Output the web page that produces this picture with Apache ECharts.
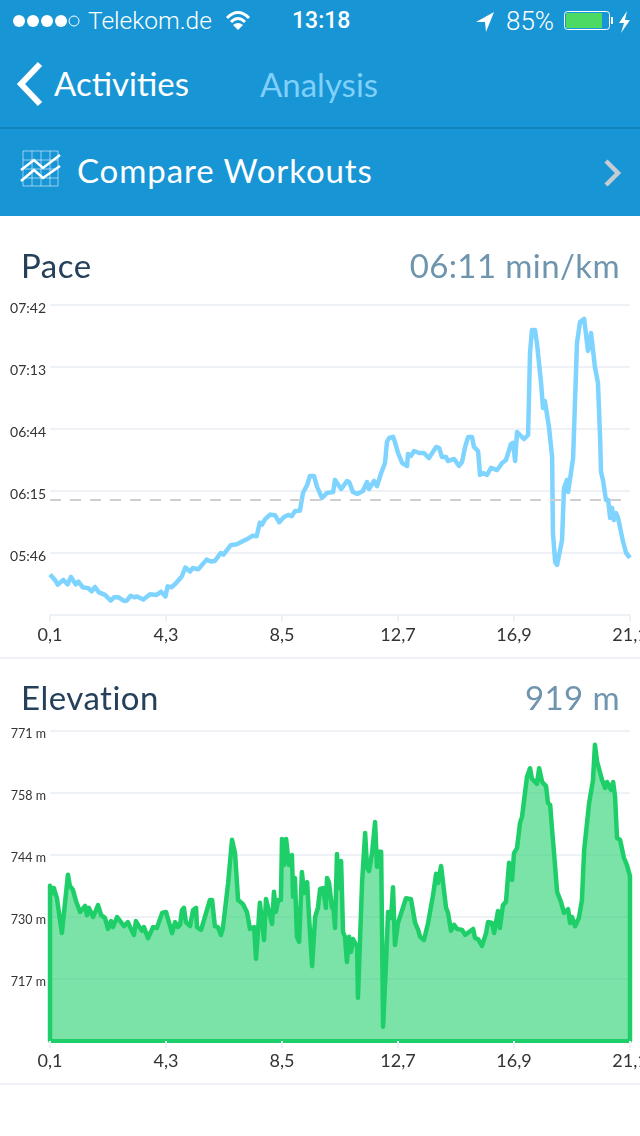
<!DOCTYPE html>
<html>
<head>
    <meta charset="utf-8">
    <title>Analysis</title>
    <script src="https://cdn.jsdelivr.net/npm/echarts@6/dist/echarts.min.js"></script>
    <style>
        html, body { margin: 0; padding: 0; background: #fff; }
        #page { position: relative; width: 640px; height: 1136px; overflow: hidden; font-family: Lato, "Open Sans", sans-serif; }
        #chart1 { position: absolute; left: 0; top: 0; width: 640px; height: 1136px; }
        #header { position: absolute; left: 0; top: 0; width: 640px; height: 216px; background: #1795d4; }
        #header .rule { position: absolute; left: 0; top: 127px; width: 640px; height: 2px; background: #1483bd; }
        .t { position: absolute; white-space: nowrap; line-height: 40px; height: 40px; }
        .status { font-family: Roboto, sans-serif; font-weight: 300; font-size: 24.5px; color: #fff; }
        .nav { font-size: 33px; color: #fff; }
        .head { font-size: 33px; letter-spacing: 0.5px; color: #24405a; }
        .val { font-size: 33px; letter-spacing: 0.4px; color: #6f95ae; right: 20px; }
        svg { position: absolute; left: 0; top: 0; }
        .sep { position: absolute; left: 0; width: 640px; height: 2px; background: #eef2f6; }
    </style>
</head>
<body>
<div id="page">
    <div id="chart1"></div>
    <div id="header">
        <div class="rule"></div>
        <svg width="640" height="216">
            <g fill="#fff">
                <circle cx="19" cy="21" r="6"/><circle cx="33" cy="21" r="6"/><circle cx="47" cy="21" r="6"/><circle cx="61" cy="21" r="6"/>
            </g>
            <circle cx="74" cy="21" r="5" fill="none" stroke="#fff" stroke-width="1"/>
            <g fill="none" stroke="#fff" stroke-width="3">
                <path d="M227 18 Q238 7 249 18"/>
                <path d="M231 22 Q238 15 245 22"/>
            </g>
            <path d="M233 25 L238 30 L243 25 Q238 21 233 25 Z" fill="#fff"/>
            <path d="M494 12 L476 22 L485 22 L486 32 Z" fill="#fff"/>
            <rect x="564.5" y="11.5" width="45" height="18" rx="3" fill="none" stroke="#fff" stroke-width="1"/>
            <rect x="566" y="13" width="36" height="15" fill="#4cd964"/>
            <rect x="611" y="17" width="2" height="7" fill="#fff"/>
            <path d="M627 11 L619 23 L624 23 L621 33 L630 20 L625 20 Z" fill="#fff"/>
            <path d="M40 64 L21 84 L40 104" fill="none" stroke="#fff" stroke-width="6"/>
            <g fill="none" stroke="#fff" stroke-opacity="0.55" stroke-width="1">
                <path d="M23 151 H58 V186 H23 Z M23 160 H58 M23 169 H58 M23 178 H58 M32 151 V186 M41 151 V186 M50 151 V186"/>
            </g>
            <g fill="none" stroke="#fff" stroke-width="2.5">
                <path d="M21 170 L34 160 L43 168 L60 155"/>
                <path d="M21 181 L34 170 L43 178 L60 166"/>
            </g>
            <path d="M606 161 L618 173 L606 185" fill="none" stroke="#c6ccd4" stroke-width="4.5"/>
        </svg>
        <div class="t status" style="left:88px;top:1px;">Telekom.de</div>
        <div class="t status" style="left:292px;top:1px;font-weight:500;font-size:23px;">13:18</div>
        <div class="t status" style="left:506px;top:1px;font-size:26px;">85%</div>
        <div class="t nav" style="left:54px;top:63px;">Activities</div>
        <div class="t nav" style="left:260px;top:64px;color:#7fd0fb;">Analysis</div>
        <div class="t nav" style="left:77px;top:150px;letter-spacing:0.9px;">Compare Workouts</div>
    </div>
    <div class="t head" style="left:21px;top:245px;">Pace</div>
    <div class="t val" style="top:245px;">06:11 min/km</div>
    <div class="sep" style="top:657px;"></div>
    <div class="t head" style="left:21px;top:677px;">Elevation</div>
    <div class="t val" style="top:677px;">919 m</div>
    <div class="sep" style="top:1083px;"></div>
</div>
<script>
    // distance ticks in km, pace in seconds per km, elevation in metres
    var kmTicks = [0.1, 4.3, 8.5, 12.7, 16.9, 21.1];
    var paceTicks = [317, 346, 375, 404, 433, 462];
    var paceLabels = ['', '05:46', '06:15', '06:44', '07:13', '07:42'];
    var paceAverage = 371;
    var elevationTicks = [703.5, 717, 730.5, 744, 757.5, 771];
    var elevationLabels = ['', '717 m', '730 m', '744 m', '758 m', '771 m'];

    var paceKm = [0.10,0.28,0.38,0.58,0.74,0.86,1.03,1.13,1.28,1.49,1.61,1.73,1.87,2.09,2.30,2.42,2.57,2.78,2.88,3.02,3.15,3.25,3.48,3.72,3.96,4.12,4.28,4.36,4.51,4.69,4.87,5.00,5.17,5.27,5.47,5.77,5.92,6.07,6.28,6.38,6.64,6.86,7.22,7.44,7.58,7.70,7.78,7.89,8.07,8.25,8.40,8.57,8.73,8.85,8.97,9.15,9.26,9.41,9.51,9.66,9.77,9.95,10.13,10.35,10.42,10.64,10.85,10.93,11.07,11.22,11.43,11.58,11.65,11.83,11.94,12.09,12.23,12.30,12.38,12.52,12.59,12.70,12.85,13.03,13.06,13.17,13.28,13.46,13.64,13.82,14.08,14.19,14.29,14.44,14.51,14.73,14.91,15.02,15.13,15.20,15.24,15.38,15.45,15.60,15.67,15.78,15.92,16.07,16.29,16.47,16.61,16.79,16.87,16.94,17.01,17.08,17.26,17.41,17.48,17.55,17.66,17.73,17.88,17.95,18.02,18.17,18.28,18.31,18.39,18.46,18.64,18.71,18.82,18.86,19.04,19.18,19.29,19.36,19.44,19.58,19.69,19.83,19.94,20.02,20.05,20.12,20.23,20.31,20.38,20.45,20.52,20.59,20.67,20.78,20.85,20.96,21.10];
    var paceSec = [336.0,333.4,331.2,333.4,331.3,334.8,331.3,332.6,330.0,329.5,328.1,330.1,327.6,326.4,323.7,325.3,325.3,323.6,323.7,326.0,325.3,325.7,324.2,326.7,326.4,327.9,325.7,330.4,330.0,332.3,335.0,339.2,337.3,339.0,338.4,342.9,342.0,342.3,346.0,345.2,349.6,350.1,352.4,354.1,353.8,360.2,359.3,361.8,364.0,363.6,360.4,362.8,363.8,363.2,365.6,365.8,374.1,377.8,382.0,382.0,376.9,371.7,374.1,374.5,380.2,375.9,379.7,379.2,374.5,373.6,375.0,379.2,375.9,379.7,377.3,383.4,388.1,397.9,399.8,400.3,397.9,392.8,388.1,386.7,392.3,391.4,393.7,392.8,392.8,390.4,395.6,395.1,390.9,390.9,389.0,390.0,386.7,388.6,395.6,395.6,400.3,400.3,395.6,393.7,382.5,383.4,382.5,385.8,384.8,388.1,389.5,397.0,397.5,389.0,402.6,402.6,399.3,401.2,439.6,450.3,450.3,444.2,425.5,413.8,417.1,404.5,390.9,355.4,341.8,340.4,352.1,376.4,380.2,374.5,390.4,444.2,454.0,453.6,455.5,440.5,448.9,433.0,425.5,398.9,383.9,380.2,370.8,370.8,362.4,367.1,361.4,364.7,362.4,355.4,351.2,346.0,343.7];

    var elevationKm = [0.10,0.10,0.21,0.24,0.35,0.53,0.75,0.82,0.93,1.04,1.11,1.19,1.37,1.44,1.51,1.66,1.84,1.95,2.09,2.20,2.31,2.38,2.53,2.67,2.78,2.92,3.03,3.14,3.21,3.36,3.43,3.50,3.65,3.83,3.97,4.16,4.30,4.52,4.63,4.73,4.81,4.88,4.95,5.02,5.17,5.28,5.39,5.42,5.57,5.89,5.97,6.07,6.18,6.29,6.36,6.55,6.69,6.73,6.80,6.91,7.09,7.23,7.34,7.49,7.56,7.60,7.70,7.85,7.92,8.14,8.21,8.28,8.36,8.46,8.50,8.57,8.65,8.72,8.75,8.86,8.90,8.97,9.04,9.12,9.22,9.30,9.41,9.48,9.59,9.70,9.80,9.88,9.99,10.09,10.13,10.20,10.31,10.35,10.42,10.49,10.56,10.64,10.71,10.78,10.85,10.93,11.00,11.07,11.14,11.22,11.25,11.40,11.51,11.58,11.65,11.76,11.83,11.87,11.94,12.01,12.09,12.16,12.27,12.34,12.41,12.45,12.52,12.59,12.70,12.77,12.99,13.17,13.32,13.43,13.50,13.64,13.79,13.97,14.08,14.15,14.26,14.44,14.51,14.62,14.73,14.84,15.02,15.13,15.42,15.49,15.60,15.74,15.89,15.96,16.10,16.18,16.32,16.39,16.50,16.61,16.72,16.83,16.90,17.01,17.12,17.19,17.37,17.48,17.55,17.73,17.81,17.92,18.06,18.13,18.21,18.28,18.35,18.46,18.60,18.71,18.86,18.93,19.00,19.11,19.25,19.36,19.44,19.51,19.62,19.76,19.83,19.91,19.98,20.09,20.20,20.27,20.41,20.49,20.56,20.63,20.74,20.88,20.99,21.10,21.10];
    var elevationM = [703.5,737.3,735.7,736.8,734.6,727.0,739.7,737.3,736.4,734.0,733.8,731.6,732.9,730.9,732.5,730.5,733.1,730.9,730.3,727.9,729.6,728.3,730.5,729.4,728.5,729.4,727.9,726.6,729.6,728.1,727.5,728.3,725.9,728.3,728.1,731.4,731.6,727.0,729.4,728.3,728.8,732.0,732.5,729.4,728.5,732.0,732.5,728.3,727.7,734.2,734.2,728.5,728.3,726.6,728.1,737.9,747.3,747.3,744.4,734.2,733.3,731.6,727.9,728.3,721.4,721.4,733.6,725.5,734.4,729.0,736.0,731.6,734.2,734.2,747.5,741.8,747.5,747.5,741.8,744.0,734.9,739.0,726.2,725.1,740.3,735.7,738.1,730.5,719.8,730.5,732.5,736.6,736.8,732.5,739.0,738.1,732.5,733.6,728.1,744.2,736.8,742.7,727.2,726.2,720.7,726.2,722.9,725.7,725.7,724.0,712.9,738.1,748.8,741.2,740.5,744.4,744.4,751.2,741.4,744.7,744.7,706.6,721.1,731.6,732.0,730.3,737.0,724.4,729.2,729.4,734.6,734.4,729.2,727.7,726.2,725.5,729.2,735.3,739.9,737.9,741.6,732.5,731.4,727.5,728.8,727.9,727.7,726.6,727.9,725.9,725.7,724.2,727.0,729.4,729.2,727.0,731.8,728.1,733.1,733.8,742.3,738.6,744.4,745.5,751.0,752.3,761.0,762.9,760.6,759.5,762.9,759.9,759.0,755.3,754.9,749.4,744.4,736.0,733.8,731.4,732.2,729.2,730.5,728.5,730.3,734.2,745.1,745.5,755.3,760.3,768.0,764.3,764.7,760.3,758.6,759.9,758.2,759.9,756.6,747.7,747.3,743.4,741.8,739.4,703.5];

    function zip(xs, ys) {
        return xs.map(function (x, i) { return [x, ys[i]]; });
    }

    function xAxisFor(gridIndex, lineColor, lineWidth) {
        return {
            type: 'value',
            gridIndex: gridIndex,
            min: kmTicks[0],
            max: kmTicks[kmTicks.length - 1],
            axisLine: { show: true, onZero: false, lineStyle: { color: lineColor, width: lineWidth } },
            axisTick: { show: true, length: 7, customValues: kmTicks, lineStyle: { color: '#eef2f6', width: 2 } },
            splitLine: { show: false },
            axisLabel: {
                customValues: kmTicks,
                margin: 11,
                fontFamily: 'Lato',
                fontSize: 18,
                color: '#333',
                hideOverlap: false,
                formatter: function (v) { return v.toFixed(1).replace('.', ','); }
            }
        };
    }

    function yAxisFor(gridIndex, ticks, labels, fontSize) {
        return {
            type: 'value',
            gridIndex: gridIndex,
            min: ticks[0],
            max: ticks[ticks.length - 1],
            axisLine: { show: false },
            axisTick: { show: false, customValues: ticks },
            splitLine: { show: true, lineStyle: { color: '#eef2f6', width: 2 } },
            axisLabel: {
                customValues: ticks.slice(1),
                margin: 4,
                fontFamily: 'Lato',
                fontSize: fontSize,
                color: '#333',
                verticalAlign: 'top',
                lineHeight: 6,
                formatter: function (v) { return labels[ticks.indexOf(v)]; }
            }
        };
    }

    var myChart1 = echarts.init(document.getElementById('chart1'), null, { renderer: 'canvas' });
    myChart1.setOption({
        animation: false,
        grid: [
            { left: 50, right: 10, top: 305, height: 310, outerBoundsMode: 'none' },
            { left: 50, right: 10, top: 731, height: 310, outerBoundsMode: 'none' }
        ],
        xAxis: [xAxisFor(0, '#eef2f6', 2), xAxisFor(1, '#1ecf69', 4)],
        yAxis: [yAxisFor(0, paceTicks, paceLabels, 14), yAxisFor(1, elevationTicks, elevationLabels, 12.5)],
        series: [
            {
                name: 'Pace',
                type: 'line',
                xAxisIndex: 0,
                yAxisIndex: 0,
                data: zip(paceKm, paceSec),
                showSymbol: false,
                clip: false,
                lineStyle: { color: '#7fd4ff', width: 4.5, join: 'round' },
                markLine: {
                    silent: true,
                    symbol: 'none',
                    label: { show: false },
                    lineStyle: { color: '#cfcfcf', type: [11, 9], width: 2 },
                    data: [{ yAxis: paceAverage }]
                }
            },
            {
                name: 'Elevation',
                type: 'line',
                xAxisIndex: 1,
                yAxisIndex: 1,
                data: zip(elevationKm, elevationM),
                showSymbol: false,
                clip: false,
                lineStyle: { color: '#1ecf69', width: 4.5, join: 'round' },
                areaStyle: { color: '#1ecf69', opacity: 0.58 }
            }
        ]
    });
</script>
</body>
</html>
